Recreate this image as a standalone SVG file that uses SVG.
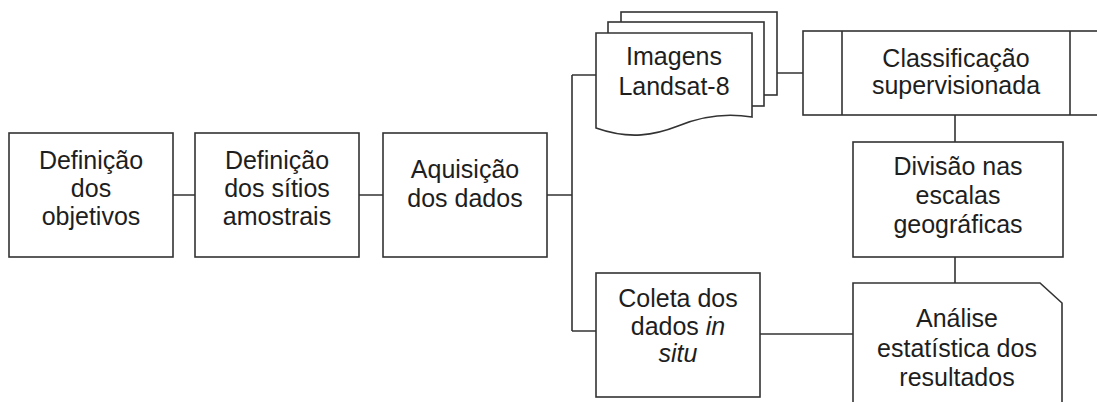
<svg xmlns="http://www.w3.org/2000/svg" width="1097" height="402" viewBox="0 0 1097 402">
<style>
.s{fill:#fff;stroke:#333;stroke-width:1.6}
.c{fill:none;stroke:#333;stroke-width:1.6}
text{font-family:"Liberation Sans",Arial,sans-serif;font-size:25px;fill:#1e1e1e;text-anchor:middle}
</style>
<rect width="1097" height="402" fill="#fff"/>
<g id="connectors">
<path class="c" d="M173,195H195M359,195H383M547,195H572M572,75V331M572,75H596M572,331H596M777,73H803M955,115V142M955,257V283M760,334H853"/>
</g>
<g id="n1">
<rect class="s" x="9" y="133" width="164" height="124"/>
<text x="91" y="169">Definição</text>
<text x="91" y="197">dos</text>
<text x="91" y="225">objetivos</text>
</g>
<g id="n2">
<rect class="s" x="195" y="133" width="164" height="124"/>
<text x="277" y="169">Definição</text>
<text x="277" y="197">dos sítios</text>
<text x="277" y="225">amostrais</text>
</g>
<g id="n3">
<rect class="s" x="383" y="133" width="164" height="124"/>
<text x="465" y="178">Aquisição</text>
<text x="465" y="207">dos dados</text>
</g>
<g id="n4">
<rect class="s" x="621" y="12" width="156" height="83"/>
<rect class="s" x="608" y="22" width="156" height="84"/>
<path class="s" d="M596,33H752V117C728,113 702,116 678,126C655,135 630,140 596,128Z"/>
<text x="674" y="65">Imagens</text>
<text x="674" y="95">Landsat-8</text>
</g>
<g id="n5">
<rect class="s" x="803" y="31" width="306" height="84"/>
<path class="c" d="M842,31V115M1070,31V115"/>
<text x="956" y="67">Classificação</text>
<text x="956" y="94">supervisionada</text>
</g>
<g id="n6">
<rect class="s" x="853" y="142" width="210" height="115"/>
<text x="958" y="175">Divisão nas</text>
<text x="958" y="204">escalas</text>
<text x="958" y="233">geográficas</text>
</g>
<g id="n7">
<rect class="s" x="596" y="273" width="164" height="124"/>
<text x="678" y="307">Coleta dos</text>
<text x="678" y="335">dados <tspan font-style="italic">in</tspan></text>
<text x="678" y="362" font-style="italic">situ</text>
</g>
<g id="n8">
<path class="s" d="M853,420V283H1040L1062,303V420"/>
<text x="957" y="327">Análise</text>
<text x="957" y="357">estatística dos</text>
<text x="957" y="386">resultados</text>
</g>
</svg>
